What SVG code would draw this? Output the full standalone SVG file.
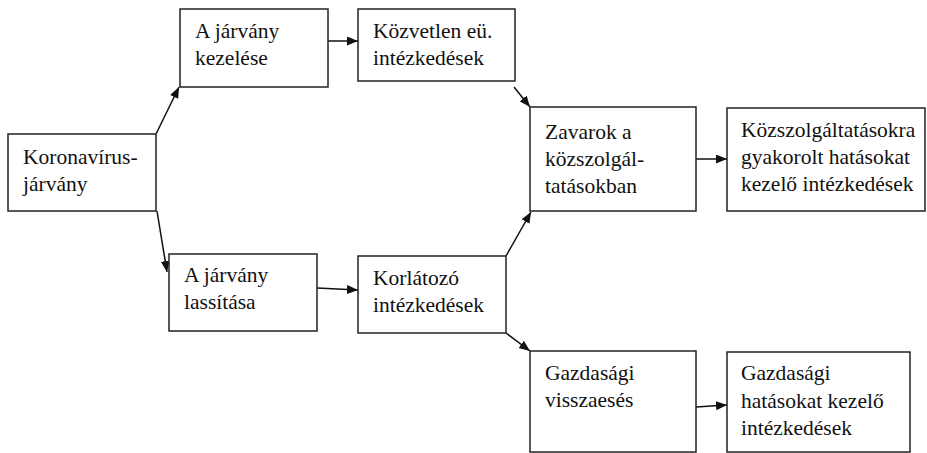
<svg xmlns="http://www.w3.org/2000/svg" width="927" height="453" viewBox="0 0 927 453">
<defs>
<style>
.box{fill:#fff;stroke:#222;stroke-width:1.5}
.t{font-family:'Times New Roman','Liberation Serif',serif;font-size:21.5px;fill:#111}
.c{stroke:#111;stroke-width:1.5;fill:none;marker-end:url(#ah)}
</style>
<marker id="ah" markerUnits="userSpaceOnUse" markerWidth="12" markerHeight="10" refX="11" refY="4.5" orient="auto">
<path d="M0,0 L11,4.5 L0,9 z" fill="#111"/>
</marker>
</defs>
<rect width="927" height="453" fill="#fff"/>
<g id="connectors">
<line class="c" x1="156" y1="134" x2="179" y2="87"/>
<line class="c" x1="157" y1="211" x2="167" y2="272"/>
<line class="c" x1="328" y1="41" x2="358" y2="41"/>
<line class="c" x1="317" y1="288" x2="358" y2="290"/>
<line class="c" x1="514" y1="87" x2="530" y2="107"/>
<line class="c" x1="506" y1="256" x2="531" y2="212"/>
<line class="c" x1="506" y1="333" x2="530" y2="351"/>
<line class="c" x1="696" y1="159" x2="727" y2="159"/>
<line class="c" x1="696" y1="407" x2="727" y2="405"/>
</g>
<g id="n-koronavirus">
<rect class="box" x="8" y="134" width="148" height="77"/>
<text class="t" x="23" y="164">Koronavírus-</text>
<text class="t" x="23" y="191">járvány</text>
</g>
<g id="n-kezelese">
<rect class="box" x="180" y="9" width="148" height="78"/>
<text class="t" x="195" y="38">A járvány</text>
<text class="t" x="195" y="65">kezelése</text>
</g>
<g id="n-kozvetlen">
<rect class="box" x="358" y="9" width="157" height="72"/>
<text class="t" x="373" y="38">Közvetlen eü.</text>
<text class="t" x="373" y="65">intézkedések</text>
</g>
<g id="n-zavarok">
<rect class="box" x="530" y="107" width="166" height="104"/>
<text class="t" x="545" y="139">Zavarok a</text>
<text class="t" x="545" y="166">közszolgál-</text>
<text class="t" x="545" y="193">tatásokban</text>
</g>
<g id="n-kozszolg">
<rect class="box" x="727" y="108" width="198" height="103"/>
<text class="t" x="741" y="137">Közszolgáltatásokra</text>
<text class="t" x="741" y="164">gyakorolt hatásokat</text>
<text class="t" x="741" y="191">kezelő intézkedések</text>
</g>
<g id="n-lassitasa">
<rect class="box" x="169" y="254" width="148" height="77"/>
<text class="t" x="184" y="282">A járvány</text>
<text class="t" x="184" y="309">lassítása</text>
</g>
<g id="n-korlatozo">
<rect class="box" x="358" y="256" width="148" height="77"/>
<text class="t" x="373" y="285">Korlátozó</text>
<text class="t" x="373" y="312">intézkedések</text>
</g>
<g id="n-visszaeses">
<rect class="box" x="530" y="351" width="166" height="101"/>
<text class="t" x="545" y="380">Gazdasági</text>
<text class="t" x="545" y="407">visszaesés</text>
</g>
<g id="n-gazd-kezelo">
<rect class="box" x="727" y="352" width="183" height="100"/>
<text class="t" x="741" y="380">Gazdasági</text>
<text class="t" x="741" y="408">hatásokat kezelő</text>
<text class="t" x="741" y="435">intézkedések</text>
</g>
</svg>
